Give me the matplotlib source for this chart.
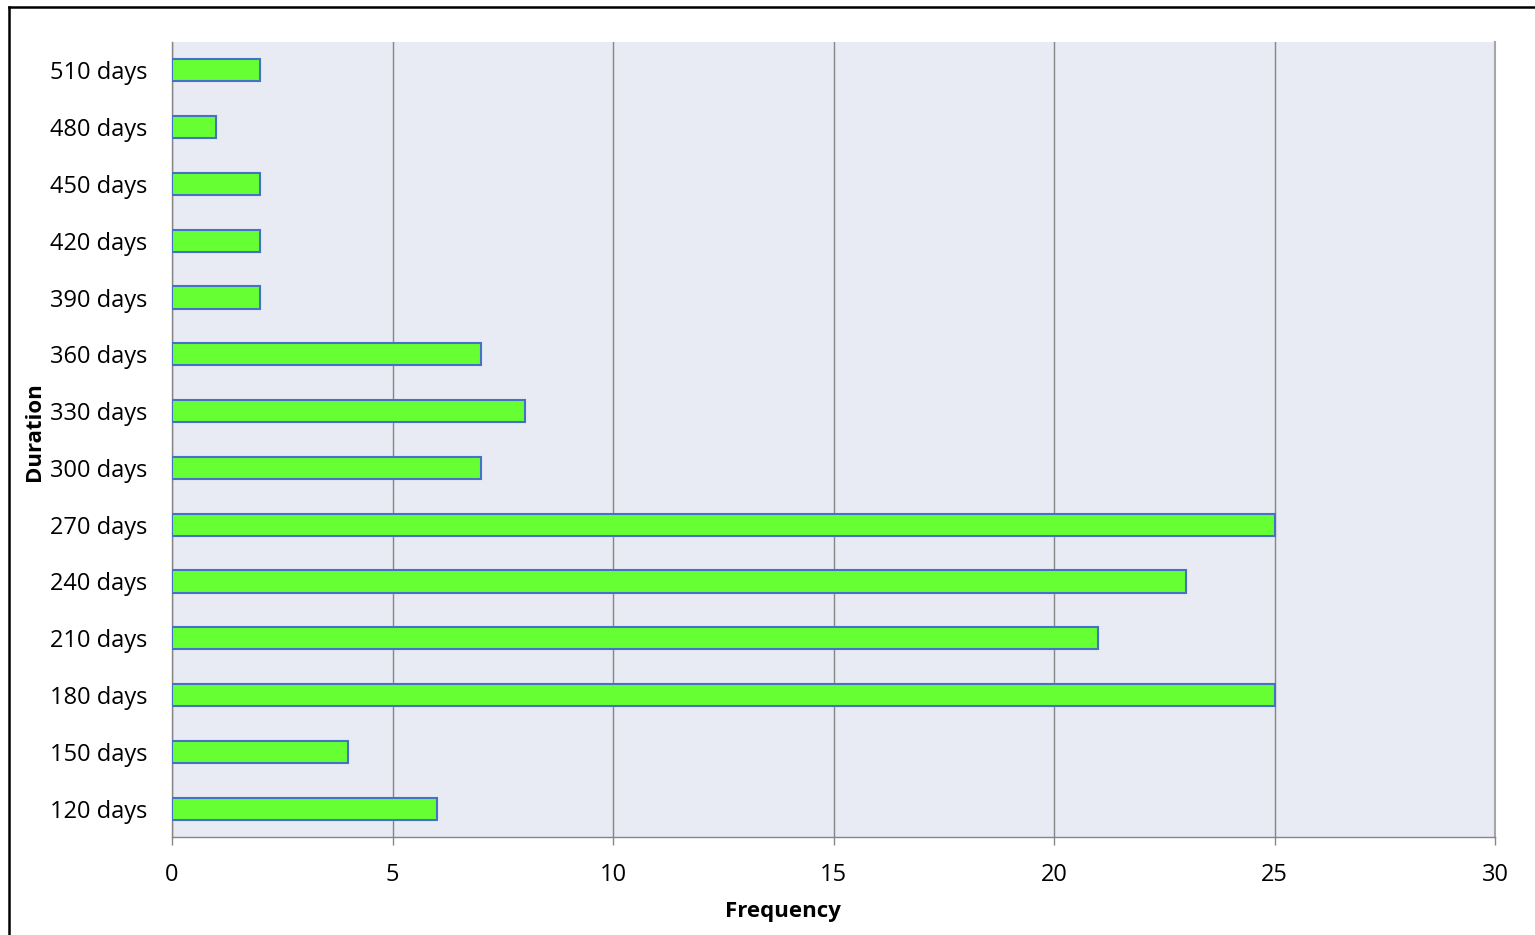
"""
Horizontal bar chart of duration frequencies.
"""

import matplotlib
matplotlib.use('Agg')
import matplotlib.pyplot as plt
from matplotlib.lines import Line2D

# Duration buckets (bottom to top) and how often each occurs
durations = ['120 days', '150 days', '180 days', '210 days', '240 days',
             '270 days', '300 days', '330 days', '360 days', '390 days',
             '420 days', '450 days', '480 days', '510 days']
frequency = [6, 4, 25, 21, 23, 25, 7, 8, 7, 2, 2, 2, 1, 2]
x_ticks = [0, 5, 10, 15, 20, 25, 30]

plt.rcParams['font.family'] = ['Open Sans', 'DejaVu Sans']

W, H = 1535, 935
fig = plt.figure(figsize=(W / 100, H / 100), dpi=100)
fig.patch.set_facecolor('white')

# Plot area placed in pixel terms
left, right, top, bottom = 172, 1495, 42, 837
ax = fig.add_axes([left / W, 1 - bottom / H, (right - left) / W, (bottom - top) / H])
ax.set_facecolor('#E8EAF4')

pos = list(range(len(durations)))
ax.barh(pos, frequency, height=0.39, color='#66FF33', edgecolor='#4472C4',
        linewidth=1.5, zorder=3)

ax.set_xlim(0, 30)
ax.set_ylim(-0.5, len(durations) - 0.5)
ax.set_xticks(x_ticks)
ax.set_xticklabels([str(t) for t in x_ticks])
ax.set_yticks(pos)
ax.set_yticklabels(durations)

# Vertical gridlines only
ax.grid(axis='x', color='#868686', linewidth=1.0, zorder=1)
ax.grid(axis='y', visible=False)

ax.spines['top'].set_visible(False)
ax.spines['right'].set_color('#A6A6A6')
ax.spines['right'].set_linewidth(1.5)
for side in ['bottom', 'left']:
    ax.spines[side].set_color('#868686')
    ax.spines[side].set_linewidth(1.0)

ax.tick_params(axis='x', length=6, width=1.0, color='#868686', pad=13,
               labelsize=17, labelcolor='black')
ax.tick_params(axis='y', length=0, pad=18, labelsize=17, labelcolor='black')

fig.text(783 / W, 1 - 911 / H, 'Frequency', ha='center', va='center',
         fontsize=16, fontweight='bold')
fig.text(34 / W, 1 - 432 / H, 'Duration', ha='center', va='center',
         rotation=90, fontsize=16, fontweight='bold')

# Outer chart frame (left and top edges)
fig.add_artist(Line2D([9 / W, 9 / W], [0, 1 - 7 / H], color='black', linewidth=1.8,
                      transform=fig.transFigure))
fig.add_artist(Line2D([9 / W, 1], [1 - 7 / H, 1 - 7 / H], color='black', linewidth=1.8,
                      transform=fig.transFigure))

fig.savefig('out.png', dpi=100)
